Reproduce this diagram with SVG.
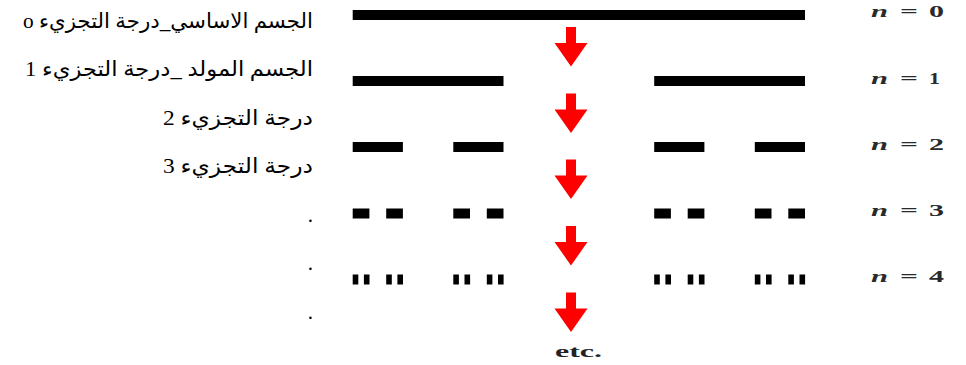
<svg xmlns="http://www.w3.org/2000/svg" xmlns:xlink="http://www.w3.org/1999/xlink" width="966" height="365" viewBox="0 0 966 365">
<style>
.ar{font-family:"Liberation Serif","DejaVu Sans","Noto Sans",serif;font-size:21px;fill:#000;direction:rtl;text-anchor:start}
.bar{fill:#000}
.lbl{font-family:"Liberation Serif","DejaVu Serif",serif;font-weight:bold;font-size:16px;fill:#2a2a2a}
.lbl .n{font-style:italic}
.etc{font-family:"Liberation Serif","DejaVu Serif",serif;font-weight:bold;font-size:16px;fill:#222}
.arrow{fill:#ff0000}
</style>
<defs>
<path id="arr" d="M-5,0 H5 V16 H16.5 L0,39.5 L-16.5,16 H-5 Z"/>
</defs>
<rect width="966" height="365" fill="#fff"/>
<g id="legend">
<text class="ar" x="313" y="27.5" textLength="290" lengthAdjust="spacingAndGlyphs">الجسم الاساسي_درجة التجزيء o</text>
<text class="ar" x="313" y="76" textLength="288" lengthAdjust="spacingAndGlyphs">الجسم المولد _درجة التجزيء 1</text>
<text class="ar" x="313" y="124.5" textLength="150" lengthAdjust="spacingAndGlyphs">درجة التجزيء 2</text>
<text class="ar" x="313" y="173" textLength="150" lengthAdjust="spacingAndGlyphs">درجة التجزيء 3</text>
<text class="ar" x="313" y="221.5">.</text>
<text class="ar" x="313" y="270">.</text>
<text class="ar" x="313" y="319">.</text>
</g>
<g id="level0">
<rect class="bar" x="352.7" y="10" width="452.3" height="10"/>
<text class="lbl" y="17"><tspan class="n" x="871" textLength="17" lengthAdjust="spacingAndGlyphs">n</tspan><tspan x="900" textLength="18" lengthAdjust="spacingAndGlyphs">=</tspan><tspan x="929" textLength="15" lengthAdjust="spacingAndGlyphs">0</tspan></text>
</g>
<g id="level1">
<rect class="bar" x="352.7" y="76" width="150.8" height="10"/>
<rect class="bar" x="654.2" y="76" width="150.8" height="10"/>
<text class="lbl" y="84"><tspan class="n" x="871" textLength="17" lengthAdjust="spacingAndGlyphs">n</tspan><tspan x="900" textLength="18" lengthAdjust="spacingAndGlyphs">=</tspan><tspan x="929" textLength="11" lengthAdjust="spacingAndGlyphs">1</tspan></text>
</g>
<g id="level2">
<rect class="bar" x="352.7" y="142" width="50.2" height="10"/>
<rect class="bar" x="453.3" y="142" width="50.2" height="10"/>
<rect class="bar" x="654.2" y="142" width="50.2" height="10"/>
<rect class="bar" x="754.8" y="142" width="50.2" height="10"/>
<text class="lbl" y="149.5"><tspan class="n" x="871" textLength="17" lengthAdjust="spacingAndGlyphs">n</tspan><tspan x="900" textLength="18" lengthAdjust="spacingAndGlyphs">=</tspan><tspan x="929" textLength="15" lengthAdjust="spacingAndGlyphs">2</tspan></text>
</g>
<g id="level3">
<rect class="bar" x="352.7" y="208.5" width="16.7" height="10"/>
<rect class="bar" x="386.2" y="208.5" width="16.7" height="10"/>
<rect class="bar" x="453.3" y="208.5" width="16.7" height="10"/>
<rect class="bar" x="486.8" y="208.5" width="16.7" height="10"/>
<rect class="bar" x="654.2" y="208.5" width="16.7" height="10"/>
<rect class="bar" x="687.7" y="208.5" width="16.7" height="10"/>
<rect class="bar" x="754.8" y="208.5" width="16.7" height="10"/>
<rect class="bar" x="788.3" y="208.5" width="16.7" height="10"/>
<text class="lbl" y="215.5"><tspan class="n" x="871" textLength="17" lengthAdjust="spacingAndGlyphs">n</tspan><tspan x="900" textLength="18" lengthAdjust="spacingAndGlyphs">=</tspan><tspan x="929" textLength="15" lengthAdjust="spacingAndGlyphs">3</tspan></text>
</g>
<g id="level4">
<rect class="bar" x="352.7" y="274.5" width="5.6" height="10"/>
<rect class="bar" x="363.9" y="274.5" width="5.6" height="10"/>
<rect class="bar" x="386.2" y="274.5" width="5.6" height="10"/>
<rect class="bar" x="397.4" y="274.5" width="5.6" height="10"/>
<rect class="bar" x="453.3" y="274.5" width="5.6" height="10"/>
<rect class="bar" x="464.5" y="274.5" width="5.6" height="10"/>
<rect class="bar" x="486.8" y="274.5" width="5.6" height="10"/>
<rect class="bar" x="498" y="274.5" width="5.6" height="10"/>
<rect class="bar" x="654.2" y="274.5" width="5.6" height="10"/>
<rect class="bar" x="665.4" y="274.5" width="5.6" height="10"/>
<rect class="bar" x="687.7" y="274.5" width="5.6" height="10"/>
<rect class="bar" x="698.9" y="274.5" width="5.6" height="10"/>
<rect class="bar" x="754.8" y="274.5" width="5.6" height="10"/>
<rect class="bar" x="766" y="274.5" width="5.6" height="10"/>
<rect class="bar" x="788.3" y="274.5" width="5.6" height="10"/>
<rect class="bar" x="799.5" y="274.5" width="5.6" height="10"/>
<text class="lbl" y="282"><tspan class="n" x="871" textLength="17" lengthAdjust="spacingAndGlyphs">n</tspan><tspan x="900" textLength="18" lengthAdjust="spacingAndGlyphs">=</tspan><tspan x="929" textLength="15" lengthAdjust="spacingAndGlyphs">4</tspan></text>
</g>
<g id="etc">
<text class="etc" x="555" y="357" textLength="47" lengthAdjust="spacingAndGlyphs">etc.</text>
</g>
<g id="connectors" class="arrow">
<use xlink:href="#arr" href="#arr" x="571" y="27"/>
<use xlink:href="#arr" href="#arr" x="571" y="93.5"/>
<use xlink:href="#arr" href="#arr" x="571" y="159.5"/>
<use xlink:href="#arr" href="#arr" x="571" y="226"/>
<use xlink:href="#arr" href="#arr" x="571" y="292.5"/>
</g>
</svg>
